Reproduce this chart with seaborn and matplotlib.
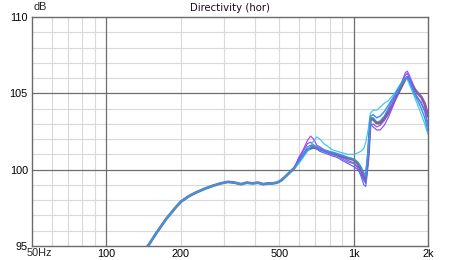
import matplotlib
matplotlib.use("Agg")
import matplotlib.pyplot as plt
import matplotlib.transforms as mtrans
import pandas as pd
import seaborn as sns

# ---------------- data ----------------
freq = [140, 150, 160, 175, 190, 200, 215, 230, 250, 270, 290, 310, 330, 350,
        370, 390, 410, 430, 450, 470, 490, 510, 530, 550, 575,
        600, 625, 650, 670, 690, 710, 730, 760, 790, 820, 860, 900, 950, 1000,
        1040, 1070, 1100, 1120, 1145, 1170, 1200, 1240, 1280, 1330, 1380, 1430,
        1480, 1530, 1580, 1620, 1650, 1680, 1720, 1770, 1820, 1880, 1940, 2000]

# low band (140-575 Hz) where all angles coincide
bass_db = [94.5, 95.2, 95.9, 96.8, 97.5, 97.9, 98.25, 98.5, 98.75, 98.95, 99.1,
           99.2, 99.15, 99.05, 99.15, 99.1, 99.15, 99.05, 99.1, 99.1, 99.15,
           99.3, 99.55, 99.8, 100.1]

gray_hi = [100.55, 100.95, 101.3, 101.4, 101.45, 101.4, 101.35, 101.25, 101.15, 101.05,
           100.95, 100.85, 100.75, 100.65, 100.4, 100.0, 99.5, 99.35, 100.8, 103.3,
           103.3, 103.05, 103.05, 103.35, 103.75, 104.2, 104.7, 105.15, 105.6, 105.95,
           106.05, 105.9, 105.6, 105.25, 105.0, 104.75, 104.3, 103.5]
purple_hi = [100.8, 101.3, 101.9, 102.2, 102.0, 101.6, 101.5, 101.3, 101.2, 101.1,
             101.05, 100.8, 100.6, 100.45, 100.2, 99.9, 99.4, 99.2, 100.5, 102.9,
             103.0, 102.8, 102.9, 103.2, 103.6, 104.2, 104.8, 105.4, 105.9, 106.35,
             106.45, 106.2, 105.8, 105.3, 105.0, 104.8, 104.4, 103.6]
violet_hi = [100.7, 101.2, 101.7, 101.8, 101.6, 101.35, 101.2, 101.1, 101.0, 100.9,
             100.8, 100.6, 100.4, 100.2, 100.0, 99.7, 99.3, 99.1, 100.6, 103.0,
             102.8, 102.6, 102.6, 102.9, 103.4, 104.0, 104.6, 105.2, 105.8, 106.2,
             106.3, 106.0, 105.5, 105.0, 104.7, 104.4, 103.9, 103.0]
blue_hi = [100.6, 101.0, 101.5, 101.6, 101.5, 101.4, 101.3, 101.2, 101.1, 101.0,
           100.9, 100.7, 100.5, 100.4, 100.1, 99.6, 99.0, 98.9, 100.9, 103.4,
           103.4, 103.1, 103.2, 103.5, 104.0, 104.5, 104.9, 105.3, 105.7, 106.0,
           106.1, 105.9, 105.5, 105.0, 104.7, 104.3, 103.8, 102.8]
azure_hi = [100.5, 100.9, 101.3, 101.5, 101.6, 101.5, 101.4, 101.3, 101.2, 101.15,
            101.05, 100.95, 100.8, 100.7, 100.5, 100.2, 99.8, 99.6, 101.3, 103.5,
            103.6, 103.4, 103.5, 103.8, 104.2, 104.6, 105.0, 105.4, 105.8, 106.0,
            106.0, 105.8, 105.4, 104.9, 104.5, 104.0, 103.4, 102.5]
cyan_hi = [100.4, 100.8, 101.2, 101.5, 101.9, 102.15, 102.0, 101.7, 101.5, 101.3,
           101.2, 101.1, 101.0, 101.0, 101.1, 101.2, 101.4, 101.8, 102.6, 103.7,
           103.9, 103.9, 104.1, 104.35, 104.5, 104.8, 105.1, 105.5, 105.8, 106.0,
           105.9, 105.6, 105.2, 104.7, 104.2, 103.6, 103.0, 102.3]

series_names = ["gray", "purple", "violet", "cyan", "blue", "azure"]
series_tails = [gray_hi, purple_hi, violet_hi, cyan_hi, blue_hi, azure_hi]
series_colors = ["#6f6f6f", "#a845f5", "#7b55f2", "#3cc6ea", "#5078ee", "#3a95e6"]
series_widths = [2.0, 0.85, 0.85, 0.85, 0.85, 1.05]

x_ticks = [50, 100, 200, 500, 1000, 2000]
x_labels = ["", "100", "200", "500", "1k", "2k"]
y_ticks = [95, 100, 105, 110]
y_labels = ["95", "100", "105", "110"]

# ---------------- plot ----------------
sns.set_style("white")
plt.rcParams["font.family"] = ["Liberation Sans", "DejaVu Sans"]

W, H = 460, 260
fig = plt.figure(figsize=(W / 100, H / 100), dpi=100)
ax = fig.add_axes([32 / W, 14 / H, 396 / W, 229 / H])

# grid
light_x = [60, 70, 80, 90, 200, 300, 400, 500, 600, 700, 800, 900]
dark_x = [100, 1000]
light_y = [96, 97, 98, 99, 101, 102, 103, 104, 106, 107, 108, 109]
dark_y = [100, 105]
for v in light_x:
    ax.axvline(v, color="#d9d9d9", lw=0.8, zorder=0)
for v in light_y:
    ax.axhline(v, color="#d9d9d9", lw=0.8, zorder=0)
for v in dark_x:
    ax.axvline(v, color="#6e6e6e", lw=0.9, zorder=0.5)
for v in dark_y:
    ax.axhline(v, color="#6e6e6e", lw=0.9, zorder=0.5)

for i, (name, tail, col, lw) in enumerate(zip(series_names, series_tails,
                                              series_colors, series_widths)):
    df = pd.DataFrame({"freq": freq, "dB": bass_db + tail})
    sns.lineplot(data=df, x="freq", y="dB", color=col, lw=lw, ax=ax,
                 legend=False, zorder=2 + i)

ax.set_xscale("log")
ax.set_xlim(50, 2000)
ax.set_ylim(95, 110)
ax.set_xticks(x_ticks)
ax.set_xticklabels(x_labels)
ax.minorticks_off()
ax.set_yticks(y_ticks)
ax.set_yticklabels(y_labels)
ax.set_xlabel("")
ax.set_ylabel("")
ax.tick_params(length=0, labelsize=7.8, colors="#000000")
ax.tick_params(axis="x", pad=2.5)
ax.tick_params(axis="y", pad=3)
for s in ax.spines.values():
    s.set_color("#6a6a6a")
    s.set_linewidth(1.0)
    s.set_visible(True)

# "50Hz" label, left-shifted start like the reference
off = mtrans.ScaledTranslation(-5 / 100, -2.5 / 100, fig.dpi_scale_trans)
ax.text(50, 0, "50Hz", transform=ax.get_xaxis_transform() + off,
        ha="left", va="top", fontsize=7.8)

ax.text(0.5, 1.0, "Directivity (hor)",
        transform=ax.transAxes + mtrans.ScaledTranslation(0, 4 / 100, fig.dpi_scale_trans),
        ha="center", va="bottom", fontsize=7.3, color="#1a0a1a", family="DejaVu Sans")
ax.text(0.0, 1.0, "dB",
        transform=ax.transAxes + mtrans.ScaledTranslation(2 / 100, 5 / 100, fig.dpi_scale_trans),
        ha="left", va="bottom", fontsize=7.8)

fig.savefig("out.png", dpi=100)
